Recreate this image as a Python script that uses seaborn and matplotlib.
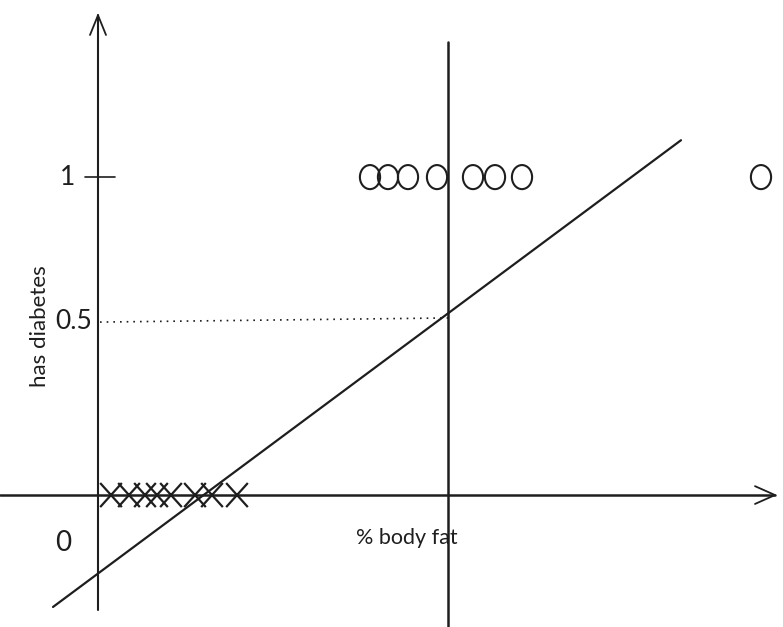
import matplotlib
matplotlib.use("Agg")
import matplotlib.pyplot as plt
from matplotlib.path import Path
from matplotlib.transforms import Affine2D
import seaborn as sns
import pandas as pd
import numpy as np

# -------------------- Data --------------------

# positives (has diabetes = 1), x in % body fat
pos_fat = [27.2, 29.0, 31.0, 33.9, 37.5, 39.7, 42.4, 66.3]
# negatives (has diabetes = 0)
neg_fat = [1.3, 3.1, 4.7, 5.9, 7.3, 9.7, 11.4, 13.9]

# hand-drawn linear fit, end points
fit_x = [-4.5, 58.3]
fit_y = [-0.352, 1.116]

# decision threshold (vertical line) and the 0.5 guide, as drawn
threshold_x = 35.0
guide_y = [0.544, 0.557]

y_tick_labels = ["1", "0.5", "0"]
xlabel = "% body fat"
ylabel = "has diabetes"

ink = "#1e1e1e"

# -------------------- Plot --------------------

sns.set_style("white")
plt.rcParams["font.family"] = ["Lato", "DejaVu Sans"]

fig = plt.figure(figsize=(7.83, 6.27), dpi=100)
ax = fig.add_axes([0, 0, 1, 1])
ax.set_xlim(-9.8, 68.5)
ax.set_ylim(-0.415, 1.557)
ax.axis("off")

# axes drawn by hand
ax.plot([0, 0], [-0.362, 1.509], color=ink, lw=1.5, solid_capstyle="round")
ax.plot([-0.8, 0, 0.8], [1.447, 1.509, 1.447], color=ink, lw=1.3)
ax.plot([-9.8, 67.7], [0, 0], color=ink, lw=1.8)
ax.plot([65.7, 67.7, 65.7], [0.028, 0, -0.028], color=ink, lw=1.3)

# tick at 1
ax.plot([-1.3, 1.7], [1, 1], color=ink, lw=1.2)

# threshold line
ax.plot([threshold_x, threshold_x], [-0.415, 1.425], color=ink, lw=1.8)

# dotted guide at 0.5
ax.plot([0.2, threshold_x], guide_y, color=ink, lw=1.2,
        linestyle=(0, (1, 3)))

# fitted line
sns.lineplot(x=fit_x, y=fit_y, color=ink, lw=1.6, ax=ax)

# points
o_marker = Path.unit_circle().transformed(Affine2D().scale(0.84, 1.0))
x_marker = Path([(-0.45, -0.5), (0.45, 0.5), (-0.45, 0.5), (0.45, -0.5)],
                [Path.MOVETO, Path.LINETO, Path.MOVETO, Path.LINETO])
df_pos = pd.DataFrame({"fat": pos_fat, "diab": [1] * len(pos_fat)})
df_neg = pd.DataFrame({"fat": neg_fat, "diab": [0] * len(neg_fat)})
sns.scatterplot(data=df_pos, x="fat", y="diab", marker=o_marker, s=300,
                facecolor="none", edgecolor=ink, linewidth=1.5, ax=ax)
sns.scatterplot(data=df_neg, x="fat", y="diab", marker=x_marker, s=300,
                facecolor="none", edgecolor=ink, linewidth=1.6, ax=ax)

# labels
ax.text(-3.0, 1.0, y_tick_labels[0], fontsize=19, color=ink, ha="center", va="center")
ax.text(-2.4, 0.545, y_tick_labels[1], fontsize=19, color=ink, ha="center", va="center")
ax.text(-3.5, -0.151, y_tick_labels[2], fontsize=20, color=ink, ha="center", va="center")
ax.text(-5.8, 0.53, ylabel, fontsize=16, color=ink, rotation=90,
        ha="center", va="center")
ax.text(30.9, -0.135, xlabel, fontsize=15.5, color=ink, ha="center", va="center")

fig.savefig("out.png", dpi=100, facecolor="white")
